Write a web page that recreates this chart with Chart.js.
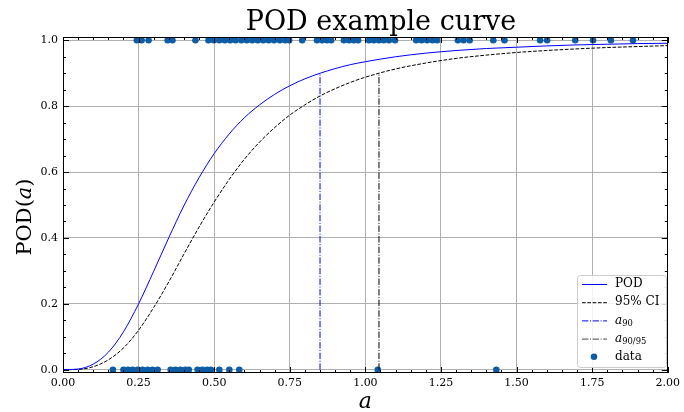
<!DOCTYPE html>
<html>
<head>
<meta charset="utf-8">
<script src="https://cdn.jsdelivr.net/npm/chart.js@4"></script>
<style>
  body { margin: 0; background: #fff; }
  #wrap { width: 684px; height: 412px; }
</style>
</head>
<body>
<div id="wrap"><canvas id="grafico"></canvas></div>
<script>
// valores
const aGrid = [0, 0.05, 0.1, 0.15, 0.2, 0.25, 0.3, 0.35, 0.4, 0.45, 0.5, 0.55, 0.6, 0.65, 0.7,
  0.75, 0.8, 0.85, 0.9, 0.95, 1.0, 1.1, 1.2, 1.3, 1.4, 1.5, 1.6, 1.7, 1.8, 1.9, 2.0];
const podValues = [0, 0.002, 0.017, 0.053, 0.115, 0.200, 0.299, 0.401, 0.498, 0.583, 0.656, 0.716,
  0.765, 0.804, 0.836, 0.862, 0.883, 0.900, 0.914, 0.926, 0.935, 0.950, 0.961, 0.969, 0.975,
  0.979, 0.983, 0.986, 0.988, 0.990, 0.991];
const ciValues = [0, 0.001, 0.009, 0.030, 0.066, 0.120, 0.189, 0.267, 0.351, 0.433, 0.509, 0.578,
  0.639, 0.691, 0.735, 0.773, 0.804, 0.831, 0.853, 0.872, 0.888, 0.913, 0.931, 0.945, 0.955,
  0.963, 0.969, 0.974, 0.978, 0.981, 0.984];

// detecciones (y = 1) y fallos (y = 0)
const hitsA = [0.244, 0.260, 0.283, 0.346, 0.362, 0.438,
  0.481, 0.499, 0.517, 0.535, 0.553, 0.571, 0.590, 0.608, 0.626, 0.644, 0.662, 0.680, 0.698,
  0.717, 0.735, 0.748, 0.791, 0.840, 0.857, 0.873, 0.887, 0.929, 0.946, 0.962, 0.976,
  1.012, 1.028, 1.045, 1.061, 1.078, 1.098, 1.168, 1.186, 1.204, 1.222, 1.237,
  1.306, 1.325, 1.345, 1.423, 1.460, 1.578, 1.601, 1.694, 1.753, 1.812, 1.885];
const missA = [0.165, 0.200, 0.215, 0.230, 0.247, 0.263, 0.280, 0.296, 0.313,
  0.356, 0.372, 0.388, 0.404, 0.416, 0.445, 0.461, 0.477, 0.489, 0.517, 0.550, 0.583,
  1.041, 1.433];

const a90 = 0.85;
const a9095 = 1.045;
const podLevel = 0.9;

const xTicks = [0, 0.25, 0.5, 0.75, 1.0, 1.25, 1.5, 1.75, 2.0];
const yTicks = [0, 0.2, 0.4, 0.6, 0.8, 1.0];

const SERIF = '"DejaVu Serif", "Liberation Serif", serif';
const BLUE_PTS = '#0C5DA5';

// texto con partes en cursiva / subindice
function textoMath(ctx, partes, x, y, size, align) {
  const fuente = p => (p.it ? 'italic ' : '') + (p.sub ? size * 0.7 : size) + 'px ' + SERIF;
  let ancho = 0;
  partes.forEach(p => { ctx.font = fuente(p); ancho += ctx.measureText(p.t).width; });
  let cx = align === 'center' ? x - ancho / 2 : x;
  ctx.textAlign = 'left';
  partes.forEach(p => {
    ctx.font = fuente(p);
    ctx.fillText(p.t, cx, y + (p.sub ? size * 0.28 : 0));
    cx += ctx.measureText(p.t).width;
  });
}

const adornos = {
  id: 'adornos',
  afterDraw(chart) {
    const { ctx, chartArea: ca, scales } = chart;
    const x = scales.x, y = scales.y;
    ctx.save();

    // marco
    ctx.strokeStyle = '#000';
    ctx.lineWidth = 1;
    ctx.strokeRect(Math.round(ca.left) + 0.5, Math.round(ca.top) + 0.5,
      Math.round(ca.width) - 1, Math.round(ca.height) - 1);

    // marcas hacia dentro
    ctx.beginPath();
    for (let i = 0; i <= 40; i++) {
      const px = Math.round(x.getPixelForValue(i * 0.05)) + 0.5;
      const len = i % 5 === 0 ? 6 : 3;
      ctx.moveTo(px, ca.bottom); ctx.lineTo(px, ca.bottom - len);
      ctx.moveTo(px, ca.top); ctx.lineTo(px, ca.top + len);
    }
    for (let i = 0; i <= 20; i++) {
      const py = Math.round(y.getPixelForValue(i * 0.05)) + 0.5;
      const len = i % 4 === 0 ? 6 : 3;
      ctx.moveTo(ca.left, py); ctx.lineTo(ca.left + len, py);
      ctx.moveTo(ca.right, py); ctx.lineTo(ca.right - len, py);
    }
    ctx.stroke();

    // titulo
    ctx.fillStyle = '#000';
    ctx.textBaseline = 'alphabetic';
    ctx.font = '27px ' + SERIF;
    ctx.textAlign = 'center';
    ctx.fillText('POD example curve', 381, 30);

    // etiquetas de ejes
    textoMath(ctx, [{ t: 'a', it: true }], (ca.left + ca.right) / 2, 408, 22, 'center');
    ctx.save();
    ctx.translate(31, 217);
    ctx.rotate(-Math.PI / 2);
    textoMath(ctx, [{ t: 'POD(' }, { t: 'a', it: true }, { t: ')' }], 0, 0, 21, 'center');
    ctx.restore();

    // leyenda
    const lx = 577, ly = 275, lw = 89, lh = 92;
    ctx.beginPath();
    ctx.roundRect(lx + 0.5, ly + 0.5, lw, lh, 3);
    ctx.fillStyle = 'rgba(255,255,255,0.85)';
    ctx.fill();
    ctx.strokeStyle = '#cccccc';
    ctx.stroke();

    const items = [
      { ds: 0, partes: [{ t: 'POD' }] },
      { ds: 1, partes: [{ t: '95% CI' }] },
      { ds: 2, partes: [{ t: 'a', it: true }, { t: '90', sub: true }] },
      { ds: 3, partes: [{ t: 'a', it: true }, { t: '90/95', sub: true }] },
      { ds: 4, partes: [{ t: 'data' }] }
    ];
    items.forEach((it, i) => {
      const d = chart.data.datasets[it.ds];
      const ry = ly + 9 + i * 18.2;
      if (it.ds === 4) {
        ctx.beginPath();
        ctx.arc(594, ry, 3.3, 0, Math.PI * 2);
        ctx.fillStyle = d.backgroundColor;
        ctx.fill();
      } else {
        ctx.beginPath();
        ctx.setLineDash(d.borderDash || []);
        ctx.strokeStyle = it.ds === 3 ? '#444444' : d.borderColor;
        ctx.lineWidth = 1;
        ctx.moveTo(582, ry + 0.5);
        ctx.lineTo(607, ry + 0.5);
        ctx.stroke();
        ctx.setLineDash([]);
      }
      ctx.fillStyle = '#000';
      ctx.textBaseline = 'middle';
      textoMath(ctx, it.partes, 615, ry, 12, 'left');
    });
    ctx.restore();
  }
};

const ctx = document.getElementById('grafico').getContext('2d');
new Chart(ctx, {
  type: 'scatter',
  data: {
    datasets: [
      {
        label: 'POD',
        data: aGrid.map((a, i) => ({ x: a, y: podValues[i] })),
        showLine: true,
        borderColor: '#0000ff',
        borderWidth: 1,
        pointRadius: 0,
        cubicInterpolationMode: 'monotone'
      },
      {
        label: '95% CI',
        data: aGrid.map((a, i) => ({ x: a, y: ciValues[i] })),
        showLine: true,
        borderColor: '#000000',
        borderWidth: 1,
        borderDash: [3.7, 1.6],
        pointRadius: 0,
        cubicInterpolationMode: 'monotone'
      },
      {
        label: 'a90',
        data: [{ x: a90, y: 0 }, { x: a90, y: podLevel }],
        showLine: true,
        borderColor: '#0000ff',
        borderWidth: 1,
        borderDash: [6.4, 1.6, 1, 1.6],
        pointRadius: 0
      },
      {
        label: 'a90/95',
        data: [{ x: a9095, y: 0 }, { x: a9095, y: podLevel }],
        showLine: true,
        borderColor: '#000000',
        borderWidth: 1,
        borderDash: [6.4, 1.6, 1, 1.6],
        pointRadius: 0
      },
      {
        label: 'data',
        data: hitsA.map(a => ({ x: a, y: 1 })).concat(missA.map(a => ({ x: a, y: 0 }))),
        showLine: false,
        backgroundColor: BLUE_PTS,
        borderWidth: 0,
        pointRadius: 3.3
      }
    ]
  },
  options: {
    animation: false,
    responsive: true,
    maintainAspectRatio: false,
    layout: { padding: { top: 37, right: 14, left: 0, bottom: 0 } },
    plugins: {
      legend: { display: false },
      title: { display: false },
      tooltip: { enabled: false }
    },
    scales: {
      x: {
        type: 'linear',
        min: 0,
        max: 2,
        afterFit(s) { s.height = 39; },
        afterBuildTicks(s) { s.ticks = xTicks.map(v => ({ value: v })); },
        grid: { color: '#b0b0b0', lineWidth: 1, drawTicks: false },
        border: { display: false },
        ticks: {
          color: '#000',
          padding: 4,
          maxRotation: 0,
          font: { family: SERIF, size: 11 },
          callback: v => Number(v).toFixed(2)
        }
      },
      y: {
        type: 'linear',
        min: -0.01,
        max: 1.01,
        afterFit(s) { s.width = 63; },
        afterBuildTicks(s) { s.ticks = yTicks.map(v => ({ value: v })); },
        grid: { color: '#b0b0b0', lineWidth: 1, drawTicks: false },
        border: { display: false },
        ticks: {
          color: '#000',
          padding: 5,
          font: { family: SERIF, size: 11 },
          callback: v => Number(v).toFixed(1)
        }
      }
    }
  },
  plugins: [adornos]
});
</script>
</body>
</html>
